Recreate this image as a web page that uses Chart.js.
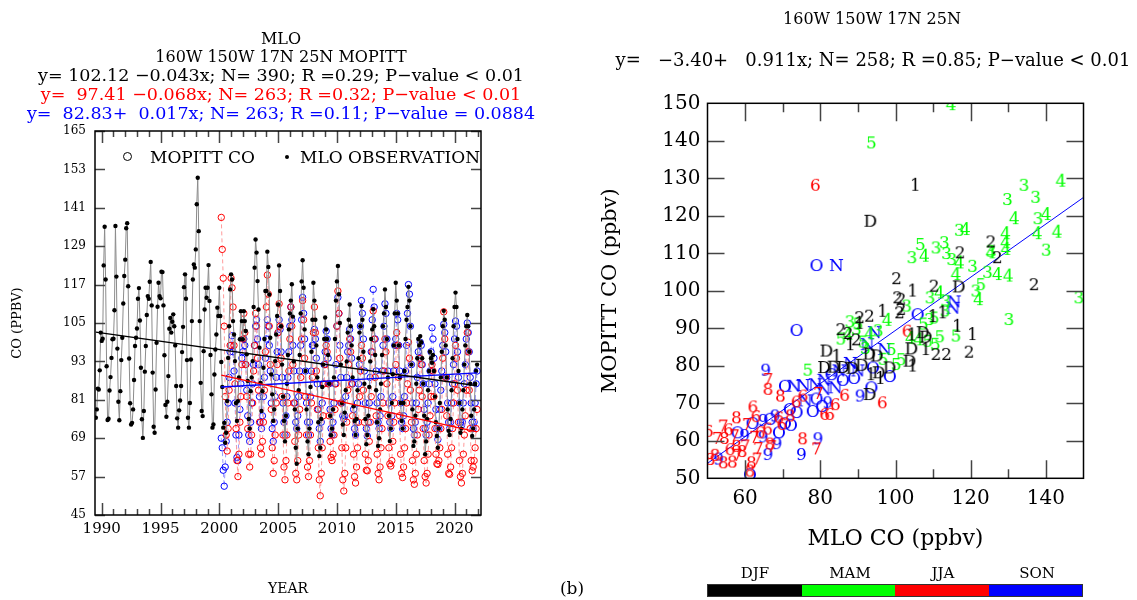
<!DOCTYPE html>
<html>
<head>
<meta charset="utf-8">
<style>
  body { margin: 0; background: #fff; }
  #wrap { position: relative; width: 1137px; height: 600px; overflow: hidden; font-family: "DejaVu Serif", serif; color: #000; }
  canvas { position: absolute; top: 0; }
  .t { position: absolute; transform: translate(-50%, -50%); white-space: pre; font-size: 15px; line-height: 1; }
  .l { position: absolute; transform: translate(0, -50%); white-space: pre; font-size: 17px; line-height: 1; }
  .eq { font-size: 17.5px; }
  .bar { position: absolute; top: 585px; height: 12px; }
</style>
</head>
<body>
<div id="wrap">
  <canvas id="left" width="560" height="600" style="left:0"></canvas>
  <canvas id="right" width="577" height="600" style="left:560px"></canvas>

  <div class="t" style="left:281px; top:39px; font-size:16px">MLO</div>
  <div class="t" style="left:281px; top:57px; font-size:16px">160W 150W 17N 25N MOPITT</div>
  <div class="t eq" style="left:281px; top:76px">y= 102.12 −0.043x; N= 390; R =0.29; P−value &lt; 0.01</div>
  <div class="t eq" style="left:281px; top:95px; color:#ff0000">y=  97.41 −0.068x; N= 263; R =0.32; P−value &lt; 0.01</div>
  <div class="t eq" style="left:281px; top:114px; color:#0000ff">y=  82.83+  0.017x; N= 263; R =0.11; P−value = 0.0884</div>

  <div style="position:absolute; left:123px; top:152px; width:9px; height:9px; border:1.2px solid #000; border-radius:50%; box-sizing:border-box"></div>
  <div class="l" style="left:150px; top:157px">MOPITT CO</div>
  <div style="position:absolute; left:285px; top:155px; width:4px; height:4px; background:#000; border-radius:50%"></div>
  <div class="l" style="left:300px; top:157px">MLO OBSERVATION</div>

  <div class="t" style="left:572px; top:588px; font-size:17px">(b)</div>

  <div class="t" style="left:872px; top:19px; font-size:16px">160W 150W 17N 25N</div>
  <div class="t" style="left:873px; top:60px; font-size:18px">y=   −3.40+   0.911x; N= 258; R =0.85; P−value &lt; 0.01</div>

  <div class="t" style="left:755px; top:573px">DJF</div>
  <div class="t" style="left:850px; top:573px">MAM</div>
  <div class="t" style="left:943px; top:573px">JJA</div>
  <div class="t" style="left:1037px; top:573px">SON</div>
  <div class="bar" style="left:707px; width:95px; background:#000"></div>
  <div class="bar" style="left:802px; width:93px; background:#00ff00"></div>
  <div class="bar" style="left:895px; width:94px; background:#ff0000"></div>
  <div class="bar" style="left:989px; width:94px; background:#0000ff"></div>
  <div class="bar" style="left:707px; width:376px; border:1px solid #333; box-sizing:border-box; height:13px; top:584px"></div>
</div>

<script src="https://cdn.jsdelivr.net/npm/chart.js"></script>
<script>
// MLO monthly observations, Jul 1989 .. Dec 2021 (N = 390)
const mloObs = [
  75.4, 78.0, 84.5, 84.2, 90.2, 102.0,                                        // 1989 Jul-Dec
  99.4, 100.1, 123.0, 135.1, 118.6, 91.5, 74.7, 75.1, 83.9, 88.1, 94.1, 99.9,  // 1990
  100.1, 109.0, 135.3, 119.5, 97.0, 80.4, 74.6, 83.7, 93.4, 100.4, 111.1, 119.7,
  124.8, 134.6, 136.2, 116.5, 93.9, 79.9, 73.3, 73.8, 78.0, 87.2, 97.8, 100.4,
  103.3, 112.6, 115.9, 105.8, 91.0, 74.9, 69.1, 77.5, 89.8, 97.8, 107.5, 113.4,
  112.6, 117.9, 124.1, 110.5, 89.5, 72.6, 70.7, 84.2, 98.8, 110.1, 117.6, 113.4,
  112.7, 121.0, 120.9, 110.5, 94.9, 79.4, 75.7, 80.4, 88.4, 103.2, 106.6, 102.0,
  105.4, 107.7, 104.0, 98.0, 85.3, 75.2, 72.3, 77.7, 80.8, 85.3, 95.9, 103.8,
  116.2, 120.2, 112.6, 93.4, 75.4, 72.3, 80.0, 93.6, 105.6, 118.6, 123.3, 122.3,
  128.0, 142.1, 150.4, 133.7, 105.6, 86.3, 77.5, 75.9, 96.2, 109.2, 116.0, 112.9, // 1998
  116.0, 123.1, 111.9, 95.0, 82.7, 72.3, 73.3, 88.9, 96.7, 101.4, 109.8, 107.2,
  116.0, 107.2, 92.8, 85.0, 72.3, 73.8, 67.6, 70.7, 80.6, 94.1, 104.0, 115.5,  // 2000
  120.2, 118.6, 105.6, 101.4, 93.1, 80.0, 74.4, 80.6, 88.0, 99.9, 108.7, 105.6,
  99.9, 108.7, 105.6, 102.5, 95.2, 86.9, 75.0, 72.0, 83.7, 88.0, 93.1, 110.0,
  122.3, 131.1, 127.0, 118.1, 109.2, 97.3, 86.3, 77.5, 83.7, 91.0, 100.0, 115.0,
  115.0, 127.3, 122.5, 113.9, 100.4, 88.9, 82.7, 74.4, 78.0, 93.1, 101.4, 107.2,
  110.8, 123.0, 115.0, 104.0, 92.0, 82.0, 74.4, 68.0, 76.0, 86.0, 95.0, 103.0, // 2005
  108.0, 112.0, 117.1, 107.0, 93.0, 78.0, 66.0, 61.0, 72.0, 84.0, 95.0, 108.0,
  118.0, 124.6, 116.0, 103.0, 90.0, 78.0, 68.0, 64.0, 72.0, 85.0, 96.0, 106.0,
  117.6, 112.0, 106.0, 98.0, 88.0, 74.0, 63.4, 66.0, 75.0, 85.0, 92.0, 100.0,
  106.7, 103.0, 100.0, 95.0, 86.0, 76.0, 69.9, 72.0, 78.0, 88.0, 100.0, 112.0,
  118.0, 122.8, 114.0, 105.0, 92.0, 80.0, 73.3, 70.0, 77.0, 84.0, 93.0, 102.0, // 2010
  106.0, 110.8, 104.0, 98.0, 88.0, 79.0, 74.4, 70.0, 75.0, 84.0, 94.0, 102.0,
  104.0, 110.3, 106.0, 96.0, 86.0, 75.0, 67.1, 70.0, 76.0, 85.0, 93.0, 100.0,
  103.0, 109.3, 104.0, 95.0, 84.0, 74.0, 66.6, 69.0, 78.0, 86.0, 95.0, 104.0,
  108.0, 115.5, 110.0, 100.0, 88.0, 76.0, 68.1, 72.0, 80.0, 89.0, 98.0, 108.0,
  117.6, 112.0, 108.0, 98.0, 88.0, 80.0, 74.4, 72.0, 80.0, 90.0, 100.0, 106.0, // 2015
  110.0, 116.3, 112.0, 104.0, 92.0, 78.0, 66.6, 68.0, 76.0, 86.0, 94.0, 100.0,
  98.0, 100.9, 99.0, 94.0, 86.0, 76.0, 64.0, 68.0, 75.0, 84.0, 90.0, 96.0,
  94.0, 92.6, 95.0, 90.0, 82.0, 74.0, 69.7, 66.0, 72.0, 80.0, 88.0, 96.0,
  104.0, 108.8, 106.0, 98.0, 88.0, 78.0, 71.3, 70.0, 75.0, 84.0, 94.0, 104.0,
  110.0, 114.5, 110.0, 100.0, 90.0, 80.0, 70.7, 72.0, 78.0, 84.0, 92.0, 98.0,  // 2020
  104.0, 107.5, 104.0, 96.0, 86.0, 76.0, 69.7, 72.0, 78.0, 86.0, 90.0, 92.0
];

// MOPITT CO, Jan 2000 .. Dec 2021 (red series)
const mopittRed = [
  null, null, 138, 128, 119, 104, 82, 70, 65, 72, 84, 98,   // 2000
  119, 116, 110, 98, 86, 72, 62, 57, 64, 74, 82, 92,
  100, 108, 102, 92, 82, 72, 64, 60, 64, 70, 80, 90,
  98, 108, 104, 94, 84, 74, 66, 64, 68, 74, 84, 96,
  110, 120, 114, 104, 92, 78, 66, 58, 62, 70, 80, 92,
  102, 111, 104, 94, 82, 70, 60, 56, 62, 70, 80, 90,        // 2005
  100, 110, 104, 92, 80, 68, 58, 56, 62, 70, 78, 88,
  100, 112, 106, 94, 82, 70, 60, 57, 62, 70, 80, 88,
  102, 110, 102, 90, 78, 66, 56, 51, 58, 66, 76, 86,
  92, 98, 96, 86, 76, 68, 63, 62, 64, 70, 78, 86,
  104, 115, 108, 94, 80, 66, 56, 52.5, 58, 66, 74, 84,     // 2010
  92, 100, 96, 86, 76, 64, 57, 55, 60, 66, 74, 82,
  90, 98, 94, 84, 74, 64, 59, 58.8, 62, 68, 74, 82,
  96, 108.8, 100, 88, 76, 64, 58, 56, 60, 66, 72, 80,
  90, 100, 96, 86, 76, 66, 61, 60.3, 62, 68, 74, 80,
  92, 102, 98, 88, 76, 64, 58, 56.7, 60, 66, 72, 80,        // 2015
  86, 99, 94, 84, 74, 62, 56, 54.6, 58, 64, 70, 78,
  84, 94, 92, 82, 72, 62, 57, 55, 58, 64, 70, 76,
  82, 92, 90, 82, 72, 64, 61, 60.8, 62, 66, 72, 78,
  94, 108.5, 100, 88, 76, 64, 58, 57.7, 60, 66, 72, 80,
  86, 98, 94, 84, 74, 62, 57, 55, 58, 64, 70, 76,           // 2020
  84, 102, 96, 84, 72, 62, 58.8, 60, 62, 66, 72, 78
];

// MOPITT CO, Jan 2000 .. Dec 2021 (blue series)
const mopittBlue = [
  null, null, 69, 66, 59, 54, 60, 68, 74, 80, 88, 96,       // 2000
  98, 101, 96, 90, 80, 70, 63, 62, 70, 78, 86, 94,
  96, 100, 98, 92, 84, 76, 70, 68, 74, 80, 86, 92,
  98, 104, 106, 100, 92, 82, 74, 72, 76, 82, 88, 94,
  100, 106, 104, 98, 90, 80, 72, 68, 74, 82, 88, 96,
  102, 106, 103, 96, 88, 80, 74, 70, 76, 82, 88, 96,        // 2005
  104, 110, 106, 98, 90, 80, 74, 72, 76, 82, 90, 98,
  106, 113, 108, 100, 90, 80, 74, 70, 74, 82, 90, 98,
  98, 103, 100, 94, 86, 78, 72, 68, 74, 80, 86, 92,
  96, 102.5, 100, 94, 86, 78, 72, 70, 74, 80, 86, 92,
  104, 113, 108, 98, 88, 80, 76, 75, 76, 82, 88, 96,        // 2010
  98, 103, 100, 94, 86, 78, 72, 70, 74, 80, 86, 92,
  104, 112, 108, 100, 90, 80, 72, 69.7, 74, 80, 88, 96,
  106, 115.5, 110, 100, 90, 80, 74, 72, 76, 82, 90, 98,
  104, 111, 108, 100, 90, 80, 74, 72, 76, 82, 90, 98,
  100, 108, 106, 98, 90, 80, 74, 72, 76, 82, 90, 98,        // 2015
  108, 117, 114, 104, 92, 80, 72, 70, 74, 80, 88, 96,
  94, 99, 98, 92, 86, 78, 72, 70, 74, 80, 86, 90,
  96, 103.5, 100, 94, 86, 78, 72, 68.6, 72, 78, 84, 90,
  98, 104.6, 102, 96, 88, 80, 74, 72, 74, 80, 86, 92,
  100, 105.6, 104, 96, 88, 80, 74, 73, 74, 80, 86, 92,      // 2020
  100, 105, 102, 96, 88, 80, 74, 72, 74, 80, 86, 90
];

// regression coefficients from the panel text (x = month index from Jul 1989)
const fitBlack = [102.12, -0.043];
const fitRed = [97.41, -0.068];
const fitBlue = [82.83, 0.017];

const yearTicks = [1990, 1995, 2000, 2005, 2010, 2015, 2020];
const coTicks = [45, 57, 69, 81, 93, 105, 117, 129, 141, 153, 165];

// scatter: month code, MLO CO (x), MOPITT CO (y)
const scatterMonth = [
  '4','5','4','3','3','3','4','3','4','4','4','3','3','4','4','4','4','4','3','5',
  '3','4','3','3','3','3','4','3','3','4','4','4','3','4','5','3','4','3','3','3',
  '5','3','5','4','5','5','5','5','5','5','4','3','5','3','5','4','3','5','3','4',
  '5','3','5','3','5','4',
  '1','D','2','2','2','2','2','1','2','D','2','2','2','1','1','2','2','2','1','D',
  '1','D','1','D','1','D','D','2','2','1','2','D','1','D','D','D','D','2','1','2',
  '1','D','D','D','1','D','1','D','1','2',
  '6','6','6','6','7','8','8','6','6','8','7','8','7','8','8','8','8','7','6','6',
  '6','7','6','7','8','8','7','8','7','6','6','7','8','6','7','8','6','7','6','6',
  '7','6','8','7','6','8',
  'O','O','N','9','9','9','9','9','9','9','O','O','N','N','N','N','O','O','O','O',
  'O','O','9','O','O','O','9','N','N','O','N','N','N','O','N','N','O','O','N','O',
  '9','N','O','9','N','O','N','O','9','O'
];
const scatterMLO = [
  114.8, 93.6, 144.0, 134.2, 137.3, 129.8, 131.6, 137.9, 140.1, 137.7, 143.0, 140.1, 117.0, 118.6, 125.4, 129.3, 129.3, 129.4, 125.4, 106.6,
  104.4, 107.7, 110.8, 113.0, 113.6, 115.0, 117.0, 120.5, 124.5, 127.1, 130.0, 116.1, 109.2, 111.7, 122.7, 121.4, 122.1, 113.4, 130.2, 148.8,
  116.1, 109.0, 110.3, 106.2, 108.6, 110.6, 111.8, 98.9, 96.7, 76.7, 87.4, 113.2, 100.2, 89.6, 91.4, 93.2, 95.4, 90.0, 87.9, 104.0,
  107.4, 103.0, 101.5, 92.0, 85.5, 97.8,
  105.3, 93.3, 125.4, 127.1, 117.2, 136.9, 100.3, 104.6, 110.3, 116.8, 100.6, 101.5, 101.5, 116.5, 120.5, 119.6, 113.6, 110.8, 112.6, 107.2,
  104.4, 104.2, 108.1, 103.7, 104.6, 98.4, 93.1, 90.5, 93.1, 96.6, 101.1, 81.6, 84.4, 81.0, 83.5, 86.0, 88.5, 87.4, 90.5, 89.6,
  88.0, 93.0, 95.0, 91.0, 93.5, 95.5, 96.0, 108.0, 110.0, 85.5,
  78.7, 103.1, 86.5, 96.5, 66.1, 66.1, 69.4, 62.1, 62.9, 57.7, 60.6, 75.3, 79.0, 61.3, 54.2, 56.6, 50.7, 54.2, 81.2, 82.5,
  50.2, 52.6, 55.6, 57.2, 57.7, 59.2, 62.5, 61.7, 63.2, 69.8, 69.0, 67.1, 66.6, 56.0, 58.0, 52.0, 64.0, 60.0, 73.6, 75.4,
  79.5, 84.0, 72.0, 63.5, 66.0, 54.5,
  73.7, 79.0, 84.3, 65.5, 64.8, 59.9, 66.1, 68.5, 75.0, 79.4, 61.3, 70.6, 73.0, 75.5, 78.7, 81.0, 71.9, 73.7, 78.0, 70.6,
  72.2, 66.7, 64.8, 62.0, 94.0, 93.6, 90.6, 97.1, 94.4, 105.9, 115.6, 115.3, 85.0, 83.0, 88.0, 81.0, 79.0, 80.5, 76.0, 86.0,
  82.0, 84.0, 58.0, 53.0, 90.0, 89.0, 92.5, 69.0, 68.0, 98.5
];
const scatterMOPITT = [
  149.5, 139.3, 129.1, 128.0, 124.8, 124.2, 119.1, 119.1, 120.2, 115.1, 115.5, 110.7, 116.0, 116.2, 110.0, 115.1, 112.7, 110.9, 110.4, 112.2,
  108.7, 109.1, 111.3, 112.7, 109.8, 108.2, 107.3, 106.4, 104.8, 104.2, 103.8, 104.2, 98.0, 99.3, 101.5, 99.8, 97.5, 97.1, 92.2, 98.0,
  87.8, 92.2, 92.6, 86.8, 86.4, 85.6, 87.6, 84.2, 81.6, 78.7, 88.2, 94.5, 80.2, 89.6, 86.2, 88.4, 89.2, 91.0, 91.6, 87.2,
  91.0, 95.8, 81.5, 84.5, 87.0, 92.0,
  128.0, 118.4, 112.9, 108.7, 110.0, 101.5, 103.1, 99.8, 101.1, 100.9, 98.0, 97.6, 94.9, 90.4, 88.2, 83.5, 82.9, 82.9, 94.0, 88.7,
  88.1, 84.4, 84.2, 81.1, 79.8, 79.3, 72.2, 92.7, 93.1, 94.4, 94.0, 83.8, 82.4, 79.4, 79.5, 79.4, 79.2, 88.5, 91.2, 86.8,
  85.5, 83.0, 82.5, 80.0, 77.5, 78.0, 76.5, 87.5, 93.0, 89.5,
  128.0, 89.1, 72.0, 70.0, 76.2, 73.6, 71.8, 68.9, 66.3, 66.0, 64.2, 60.4, 57.7, 51.8, 54.0, 54.2, 54.9, 63.8, 66.9, 66.9,
  62.4, 60.5, 62.8, 61.2, 58.4, 57.0, 60.8, 54.0, 55.0, 64.2, 66.0, 58.3, 59.0, 57.5, 56.0, 56.0, 62.0, 58.5, 70.2, 71.8,
  72.5, 69.5, 66.5, 57.8, 63.0, 60.5,
  89.3, 106.6, 106.6, 78.7, 60.9, 61.3, 56.2, 59.1, 56.2, 60.4, 50.8, 74.4, 74.4, 74.6, 74.8, 73.5, 68.2, 67.4, 67.7, 64.4,
  64.0, 65.6, 65.3, 64.5, 79.3, 74.0, 71.8, 84.2, 88.7, 93.5, 96.9, 95.2, 78.5, 77.5, 80.5, 76.0, 71.0, 69.0, 70.5, 76.0,
  70.0, 74.0, 62.0, 55.0, 78.5, 76.5, 85.5, 62.0, 66.5, 77.0
];
// fitted line as it appears in the panel (MLO 50 -> 150)
const scatterFitX = [50, 150];
const scatterFitY = [54.0, 124.9];

const seasons = [
  { codes: ['D', '1', '2'], color: '#000000' },
  { codes: ['3', '4', '5'], color: '#00ff00' },
  { codes: ['6', '7', '8'], color: '#ff0000' },
  { codes: ['9', 'O', 'N'], color: '#0000ff' }
];

const FONT = '"DejaVu Serif", serif';

function monthly(values, startYear, startMonth) {
  return values.map((v, i) => ({ x: startYear + (startMonth + i) / 12, y: v }));
}
function fitLine(coef, i0, i1) {
  return [i0, i1].map(i => ({ x: 1989.5 + i / 12, y: coef[0] + coef[1] * i }));
}

// text glyph used as a point marker
const glyphCache = {};
function glyph(ch, color) {
  const key = ch + color;
  if (glyphCache[key]) return glyphCache[key];
  const c = document.createElement('canvas');
  let ctx = c.getContext('2d');
  ctx.font = '17px ' + FONT;
  const w = Math.ceil(ctx.measureText(ch).width) + 2;
  c.width = w; c.height = 22;
  ctx = c.getContext('2d');
  ctx.font = '17px ' + FONT;
  ctx.fillStyle = color;
  ctx.textAlign = 'center';
  ctx.textBaseline = 'middle';
  ctx.fillText(ch, w / 2, 12);
  glyphCache[key] = c;
  return c;
}

// ticks drawn inside the frame, plus the frame itself
const innerTicks = {
  id: 'innerTicks',
  afterDatasetsDraw(chart, args, opts) {
    const { ctx, chartArea: a, scales: { x, y } } = chart;
    ctx.save();
    ctx.strokeStyle = '#444';
    ctx.lineWidth = 1.5;
    ctx.beginPath();
    for (const t of opts.x) {
      const px = Math.round(x.getPixelForValue(t[0])) + 0.5;
      ctx.moveTo(px, a.bottom); ctx.lineTo(px, a.bottom - t[1]);
      ctx.moveTo(px, a.top); ctx.lineTo(px, a.top + t[1]);
    }
    for (const t of opts.y) {
      const py = Math.round(y.getPixelForValue(t[0])) + 0.5;
      ctx.moveTo(a.left, py); ctx.lineTo(a.left + t[1], py);
      ctx.moveTo(a.right, py); ctx.lineTo(a.right - t[1], py);
    }
    ctx.stroke();
    ctx.strokeStyle = '#000';
    ctx.lineWidth = 1.5;
    ctx.strokeRect(a.left, a.top, a.width, a.height);
    ctx.restore();
  }
};

const leftXTicks = [];
for (let yr = 1990; yr <= 2022; yr++) leftXTicks.push([yr, yr % 5 === 0 ? 12 : 6]);

new Chart(document.getElementById('left'), {
  type: 'scatter',
  data: {
    datasets: [
      { data: fitLine(fitBlack, 0, 389), showLine: true, borderColor: '#000', borderWidth: 1.3, pointRadius: 0 },
      { data: fitLine(fitRed, 128, 389), showLine: true, borderColor: '#ff0000', borderWidth: 1.3, pointRadius: 0 },
      { data: fitLine(fitBlue, 128, 389), showLine: true, borderColor: '#0000ff', borderWidth: 1.3, pointRadius: 0 },
      { data: monthly(mloObs, 1989, 6), showLine: true, borderColor: '#8c8c8c', borderWidth: 1,
        pointRadius: 2.2, pointBackgroundColor: '#000', pointBorderWidth: 0 },
      { data: monthly(mopittRed, 2000, 0), showLine: true, borderColor: '#ff9a9a', borderWidth: 1, borderDash: [4, 3],
        pointRadius: 3.2, pointBackgroundColor: 'rgba(0,0,0,0)', pointBorderColor: '#ff0000', pointBorderWidth: 1 },
      { data: monthly(mopittBlue, 2000, 0), showLine: true, borderColor: '#9a9aff', borderWidth: 1, borderDash: [4, 3],
        pointRadius: 3.2, pointBackgroundColor: 'rgba(0,0,0,0)', pointBorderColor: '#0000ff', pointBorderWidth: 1 }
    ]
  },
  options: {
    responsive: false,
    animation: false,
    events: [],
    layout: { padding: { top: 131, right: 79, bottom: 0, left: 0 } },
    plugins: {
      legend: { display: false },
      tooltip: { enabled: false },
      innerTicks: { x: leftXTicks, y: coTicks.map(v => [v, 10]) }
    },
    scales: {
      x: {
        type: 'linear', min: 1989.43, max: 2022.25,
        afterBuildTicks: s => { s.ticks = yearTicks.map(v => ({ value: v })); },
        afterFit: s => { s.height = 85; },
        grid: { display: false, drawTicks: false },
        border: { display: false },
        ticks: { font: { family: FONT, size: 15 }, color: '#000', padding: 5, maxRotation: 0, autoSkip: false,
          callback: v => String(v) },
        title: { display: true, text: 'YEAR', font: { family: FONT, size: 14 }, color: '#000', padding: { top: 0, bottom: 2 } }
      },
      y: {
        min: 45, max: 165,
        afterBuildTicks: s => { s.ticks = coTicks.map(v => ({ value: v })); },
        afterFit: s => { s.width = 95; },
        grid: { display: false, drawTicks: false },
        border: { display: false },
        ticks: { font: { family: FONT, size: 12 }, color: '#000', padding: 9 },
        title: { display: true, text: 'CO (PPBV)', font: { family: FONT, size: 13 }, color: '#000', padding: { top: 10, bottom: 0 } }
      }
    }
  },
  plugins: [innerTicks]
});

// right panel: one dataset per season, each point drawn as its month code
const seasonSets = seasons.map(s => {
  const idx = scatterMonth.map((m, i) => s.codes.includes(m) ? i : -1).filter(i => i >= 0);
  return {
    data: idx.map(i => ({ x: scatterMLO[i], y: scatterMOPITT[i] })),
    pointStyle: idx.map(i => glyph(scatterMonth[i], s.color)),
    pointRadius: 8
  };
});

const rightXTicks = [];
for (let v = 60; v <= 140; v += 10) rightXTicks.push([v, v % 20 === 0 ? 18 : 9]);
const rightYTicks = [];
for (let v = 60; v <= 140; v += 10) rightYTicks.push([v, 17]);
const mloAxisTicks = [60, 80, 100, 120, 140];
const mopittAxisTicks = [50, 60, 70, 80, 90, 100, 110, 120, 130, 140, 150];

new Chart(document.getElementById('right'), {
  type: 'scatter',
  data: {
    datasets: [
      ...seasonSets,
      { data: scatterFitX.map((x, i) => ({ x, y: scatterFitY[i] })), showLine: true, borderColor: '#0000ff',
        borderWidth: 1, pointRadius: 0 }
    ]
  },
  options: {
    responsive: false,
    animation: false,
    events: [],
    layout: { padding: { top: 103.3, right: 53.5, bottom: 41.7, left: 0 } },
    plugins: {
      legend: { display: false },
      tooltip: { enabled: false },
      innerTicks: { x: rightXTicks, y: rightYTicks }
    },
    scales: {
      x: {
        type: 'linear', min: 50, max: 150,
        afterBuildTicks: s => { s.ticks = mloAxisTicks.map(v => ({ value: v })); },
        afterFit: s => { s.height = 80; },
        grid: { display: false, drawTicks: false },
        border: { display: false },
        ticks: { font: { family: FONT, size: 20 }, color: '#000', padding: 8, maxRotation: 0, autoSkip: false },
        title: { display: true, text: 'MLO CO (ppbv)', font: { family: FONT, size: 22 }, color: '#000', padding: { top: 0, bottom: 6 } }
      },
      y: {
        min: 50, max: 150,
        afterBuildTicks: s => { s.ticks = mopittAxisTicks.map(v => ({ value: v })); },
        afterFit: s => { s.width = 147.5; },
        grid: { display: false, drawTicks: false },
        border: { display: false },
        ticks: { font: { family: FONT, size: 20 }, color: '#000', padding: 7 },
        title: { display: true, text: 'MOPITT CO (ppbv)', font: { family: FONT, size: 21 }, color: '#000', padding: { top: 38, bottom: 0 } }
      }
    }
  },
  plugins: [innerTicks]
});
</script>
</body>
</html>
